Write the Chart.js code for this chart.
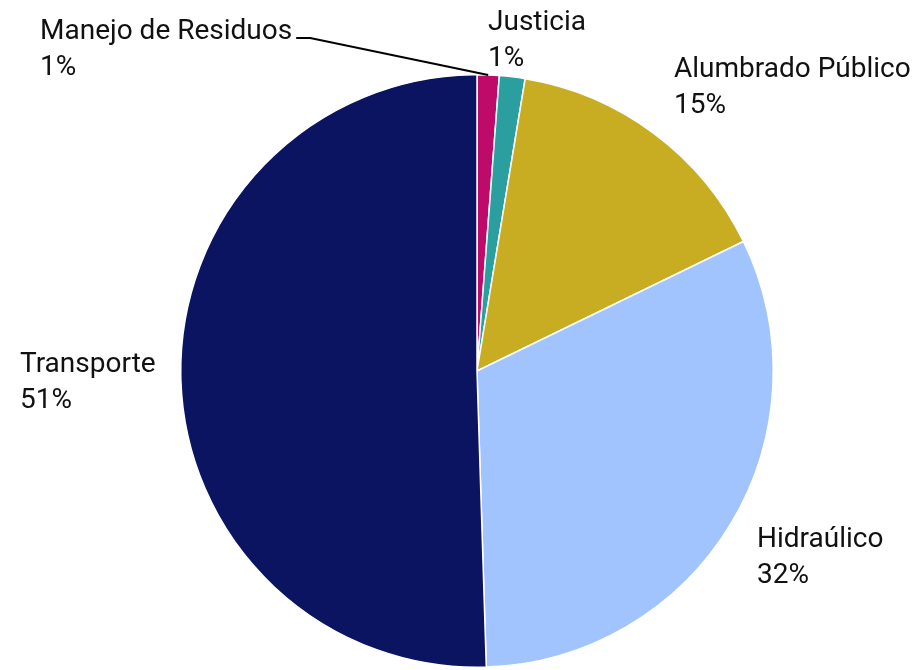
<!DOCTYPE html>
<html>
<head>
<meta charset="utf-8">
<script src="https://cdn.jsdelivr.net/npm/chart.js@4/dist/chart.umd.min.js"></script>
<style>
  html, body { margin: 0; padding: 0; background: #ffffff; }
  #wrap { width: 920px; height: 670px; }
</style>
</head>
<body>
<div id="wrap"><canvas id="c" width="920" height="670"></canvas></div>
<script>
const categories = ["Manejo de Residuos", "Justicia", "Alumbrado Público", "Hidraúlico", "Transporte"];
const shares = [1.2, 1.4, 15.2, 31.7, 50.5];
const sliceColors = ["#BE0B6A", "#2B9EA0", "#C8AD23", "#A1C4FE", "#0B1461"];

// label anchor (left x, first-line baseline y) for each slice, same order as categories
const labelAnchors = [
  { x: 40, y: 39, leader: true },
  { x: 488, y: 30 },
  { x: 674, y: 77 },
  { x: 757, y: 547 },
  { x: 20, y: 372 }
];

const labelPlugin = {
  id: 'sliceLabels',
  afterDraw(chart) {
    const ctx = chart.ctx;
    const meta = chart.getDatasetMeta(0);
    ctx.save();
    ctx.font = '28px Roboto, "Liberation Sans", sans-serif';
    ctx.fillStyle = '#111111';
    ctx.textBaseline = 'alphabetic';
    ctx.textAlign = 'left';
    const lineGap = 36;
    categories.forEach((name, i) => {
      const a = labelAnchors[i];
      const pct = Math.round(shares[i]) + '%';
      ctx.fillText(name, a.x, a.y);
      ctx.fillText(pct, a.x, a.y + lineGap);
      if (a.leader) {
        const arc = meta.data[i];
        const mid = (arc.startAngle + arc.endAngle) / 2;
        const ex = arc.x + Math.cos(mid) * arc.outerRadius;
        const ey = arc.y + Math.sin(mid) * arc.outerRadius;
        const w = ctx.measureText(name).width;
        const sx = a.x + w + 4;
        const sy = a.y - 1;
        ctx.strokeStyle = '#000000';
        ctx.lineWidth = 2;
        ctx.beginPath();
        ctx.moveTo(sx, sy);
        ctx.lineTo(sx + 14, sy);
        ctx.lineTo(ex, ey);
        ctx.stroke();
      }
    });
    ctx.restore();
  }
};

new Chart(document.getElementById('c'), {
  type: 'pie',
  data: {
    labels: categories,
    datasets: [{
      data: shares,
      backgroundColor: sliceColors,
      borderColor: '#ffffff',
      borderWidth: 1.5
    }]
  },
  options: {
    responsive: false,
    animation: false,
    devicePixelRatio: 1,
    layout: { padding: { top: 74, bottom: 2, left: 180, right: 146 } },
    plugins: {
      legend: { display: false },
      tooltip: { enabled: false }
    }
  },
  plugins: [labelPlugin]
});
</script>
</body>
</html>
